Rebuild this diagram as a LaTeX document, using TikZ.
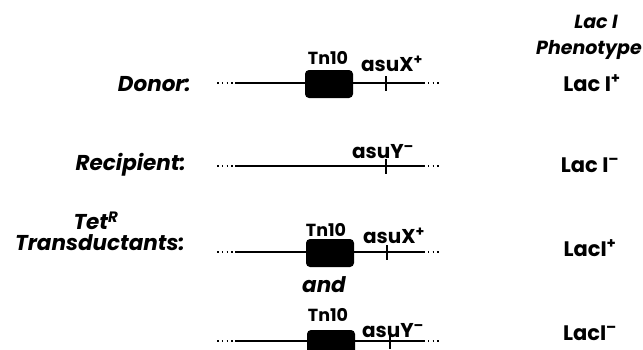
\documentclass[tikz,border=0pt]{standalone}
\usepackage{fontspec}
\setmainfont{Poppins}
\usetikzlibrary{positioning}

\tikzset{
  chrom/.style={line width=2.4pt},
  ends/.style={line width=1.6pt, dash pattern=on 1.6pt off 3.2pt},
  tnbox/.style={fill=black, rounded corners=4pt, minimum width=48pt, minimum height=28pt, inner sep=0pt},
  tick/.style={line width=1.6pt},
  rowlabel/.style={font=\fontsize{21.5}{23}\selectfont\bfseries\itshape, anchor=east, inner sep=0pt},
  tnlabel/.style={font=\fontsize{17.5}{19}\selectfont\bfseries, inner sep=0pt},
  genelabel/.style={font=\fontsize{20}{22}\selectfont\bfseries, inner sep=0pt},
  pheno/.style={font=\fontsize{21}{23}\selectfont\bfseries, inner sep=0pt}
}
\newcommand{\plusup}{\textsuperscript{+}}
\newcommand{\minusup}{\textsuperscript{--}}

\begin{document}
\begin{tikzpicture}[x=1pt, y=-1pt]
  \useasboundingbox (0,0) rectangle (643,349);

  % header
  \node [pheno, font=\fontsize{19}{21}\selectfont\bfseries\itshape] (hdrA) at (596,22) {Lac I};
  \node [pheno, font=\fontsize{19}{21}\selectfont\bfseries\itshape, anchor=east] (hdrB) at (642,50) {Phenotype};

  % donor
  \draw
    (217,83) coordinate (donA)
    (235,83) coordinate (donB)
    (423,83) coordinate (donC)
    (441,83) coordinate (donD);
  \draw [ends] (donA) -- (donB);
  \draw [chrom] (donB) -- (donC);
  \draw [ends] (donC) -- (donD);
  \node [tnbox] (donTn) at (329,84) {};
  \draw [tick] (386,76) -- (386,91);
  \node [rowlabel] (donor) at (191,84) {Donor:};
  \node [tnlabel] (donTnL) at (328,58) {Tn10};
  \node [genelabel] (donX) at (392,64) {asuX\plusup};
  \node [pheno] (donP) at (592,83) {Lac I\plusup};

  % recipient
  \draw
    (217,166) coordinate (recA)
    (235,166) coordinate (recB)
    (423,166) coordinate (recC)
    (441,166) coordinate (recD);
  \draw [ends] (recA) -- (recB);
  \draw [chrom] (recB) -- (recC);
  \draw [ends] (recC) -- (recD);
  \draw [tick] (386,159) -- (386,174);
  \node [rowlabel] (recip) at (186,165) {Recipient:};
  \node [genelabel] (recY) at (383,152) {asuY\minusup};
  \node [pheno] (recP) at (590,165) {Lac I\minusup};

  % transductant, first class
  \draw
    (217,252) coordinate (trA)
    (235,252) coordinate (trB)
    (423,252) coordinate (trC)
    (441,252) coordinate (trD);
  \draw [ends] (trA) -- (trB);
  \draw [chrom] (trB) -- (trC);
  \draw [ends] (trC) -- (trD);
  \node [tnbox] (trTn) at (330,253) {};
  \draw [tick] (387,245) -- (387,260);
  \node [rowlabel, anchor=center] (tet) at (96,221) {Tet\textsuperscript{R}};
  \node [rowlabel] (transd) at (185,243) {Transductants:};
  \node [tnlabel] (trTnL) at (326,230) {Tn10};
  \node [genelabel] (trX) at (394,236) {asuX\plusup};
  \node [pheno] (trP) at (590,248) {LacI\plusup};

  \node [rowlabel, anchor=center] (andL) at (324,285) {and};

  % transductant, second class
  \draw
    (217,341) coordinate (tsA)
    (235,341) coordinate (tsB)
    (423,341) coordinate (tsC)
    (441,341) coordinate (tsD);
  \draw [ends] (tsA) -- (tsB);
  \draw [chrom] (tsB) -- (tsC);
  \draw [ends] (tsC) -- (tsD);
  \node [tnbox] (tsTn) at (331,344) {};
  \draw [tick] (390,334) -- (390,349);
  \node [tnlabel] (tsTnL) at (328,315) {Tn10};
  \node [genelabel] (tsY) at (393,331) {asuY\minusup};
  \node [pheno] (tsP) at (590,333) {LacI\minusup};
\end{tikzpicture}
\end{document}
